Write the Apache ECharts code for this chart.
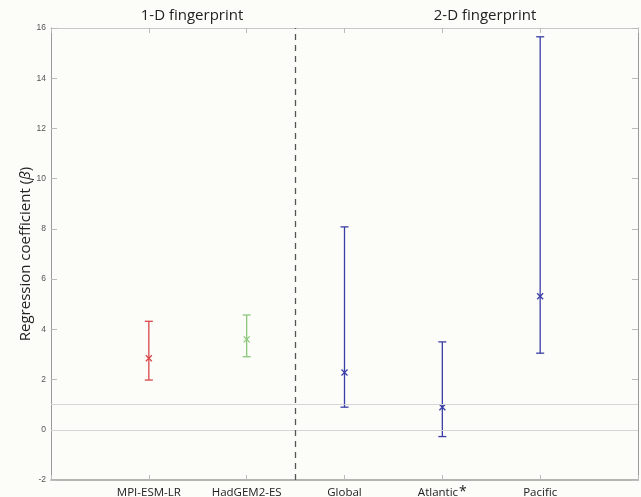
<!DOCTYPE html>
<html><head><meta charset="utf-8">
<script src="https://cdn.jsdelivr.net/npm/echarts@6/dist/echarts.min.js"></script>
<style>html,body{margin:0;padding:0;background:#fcfcf8}#c{width:641px;height:497px}</style>
</head><body><div id="c"></div>
<script>
const categories = ['MPI-ESM-LR', 'HadGEM2-ES', 'Global', 'Atlantic', 'Pacific'];
const bestEstimate = [2.85, 3.6, 2.28, 0.9, 5.32];
const lowerBound = [1.98, 2.91, 0.9, -0.27, 3.05];
const upperBound = [4.32, 4.57, 8.08, 3.5, 15.65];
const colors = ['#d9474a', '#8cc87c', '#3a3ea6', '#3a3ea6', '#3a3ea6'];
const yTicks = [-2, 0, 2, 4, 6, 8, 10, 12, 14, 16];
const groupTitles = ['1-D fingerprint', '2-D fingerprint'];

const data = categories.map((c, i) => [i + 1, bestEstimate[i], lowerBound[i], upperBound[i], i]);

const chart = echarts.init(document.getElementById('c'));
const axisGray = '#9a9a9a';
chart.setOption({
  backgroundColor: '#fcfcf8',
  animation: false,
  title: [
    {text: groupTitles[0], left: 187, top: 3, textAlign: 'center', textStyle: {fontFamily: 'Open Sans', fontWeight: 'normal', fontSize: 15, color: '#222'}},
    {text: groupTitles[1], left: 480, top: 3, textAlign: 'center', textStyle: {fontFamily: 'Open Sans', fontWeight: 'normal', fontSize: 15, color: '#222'}}
  ],
  grid: {left: 51, right: 3, top: 28, bottom: 17, containLabel: false, outerBoundsMode: 'none'},
  xAxis: [
    {type: 'value', min: 0, max: 6, interval: 1, position: 'bottom',
     axisLine: {onZero: false, lineStyle: {color: axisGray, width: 1.5}},
     axisTick: {inside: true, length: 5, lineStyle: {color: '#bbb'}},
     splitLine: {show: false},
     axisLabel: {margin: 3, color: '#222',
       formatter: v => { const i = v - 1; if (i < 0 || i >= categories.length) return ''; return categories[i] === 'Atlantic' ? '{n|Atlantic}{s|*}' : '{n|' + categories[i] + '}'; },
       rich: {n: {fontFamily: 'Open Sans', fontSize: 11.5, color: '#222', lineHeight: 16, verticalAlign: 'bottom'},
              s: {fontFamily: 'Open Sans', fontSize: 14, color: '#222', lineHeight: 16, verticalAlign: 'bottom', padding: [0, 0, 0, 1]}}}},
    {type: 'value', min: 0, max: 6, interval: 1, position: 'top',
     axisLine: {onZero: false, lineStyle: {color: '#c8c8c8'}},
     axisTick: {inside: true, length: 5, lineStyle: {color: '#bbb'}},
     axisLabel: {show: false}, splitLine: {show: false}}
  ],
  yAxis: [
    {type: 'value', min: -2, max: 16, interval: 2, position: 'left',
     name: 'Regression coefficient ({i|β})', nameLocation: 'middle', nameGap: 18, nameMoveOverlap: false,
     nameTextStyle: {fontFamily: 'Open Sans', fontSize: 15, color: '#222', rich: {i: {fontStyle: 'italic', fontFamily: 'Open Sans', fontSize: 15, color: '#222'}}},
     axisLine: {show: true, onZero: false, lineStyle: {color: axisGray}},
     axisTick: {inside: true, length: 6, lineStyle: {color: '#bbb'}},
     axisLabel: {margin: 5, fontFamily: 'Liberation Sans', fontSize: 8.5, color: '#555'},
     splitLine: {show: false}},
    {type: 'value', min: -2, max: 16, interval: 2, position: 'right',
     axisLine: {show: true, onZero: false, lineStyle: {color: axisGray}},
     axisTick: {inside: true, length: 6, lineStyle: {color: '#bbb'}},
     axisLabel: {show: false}, splitLine: {show: false}}
  ],
  series: [
    {type: 'custom', xAxisIndex: 0, yAxisIndex: 0, data: data,
     renderItem: function (params, api) {
       const x = api.value(0);
       const c = api.coord([x, api.value(1)]);
       const lo = api.coord([x, api.value(2)]);
       const hi = api.coord([x, api.value(3)]);
       const col = colors[api.value(4)];
       const cap = 4, m = 3;
       const st = {stroke: col, lineWidth: 1.3};
       return {type: 'group', children: [
         {type: 'line', shape: {x1: lo[0], y1: lo[1], x2: hi[0], y2: hi[1]}, style: st},
         {type: 'line', shape: {x1: lo[0] - cap, y1: lo[1], x2: lo[0] + cap, y2: lo[1]}, style: st},
         {type: 'line', shape: {x1: hi[0] - cap, y1: hi[1], x2: hi[0] + cap, y2: hi[1]}, style: st},
         {type: 'line', shape: {x1: c[0] - m, y1: c[1] - m, x2: c[0] + m, y2: c[1] + m}, style: st},
         {type: 'line', shape: {x1: c[0] - m, y1: c[1] + m, x2: c[0] + m, y2: c[1] - m}, style: st}
       ]};
     },
     markLine: {silent: true, symbol: 'none', label: {show: false},
       data: [
         {yAxis: 0, lineStyle: {color: '#d6d6d6', type: 'solid', width: 1}},
         {yAxis: 1, lineStyle: {color: '#d6d6d6', type: 'solid', width: 1}},
         {xAxis: 2.5, lineStyle: {color: '#555', type: [6, 5], width: 1.3}}
       ]}
    }
  ]
});
</script></body></html>
